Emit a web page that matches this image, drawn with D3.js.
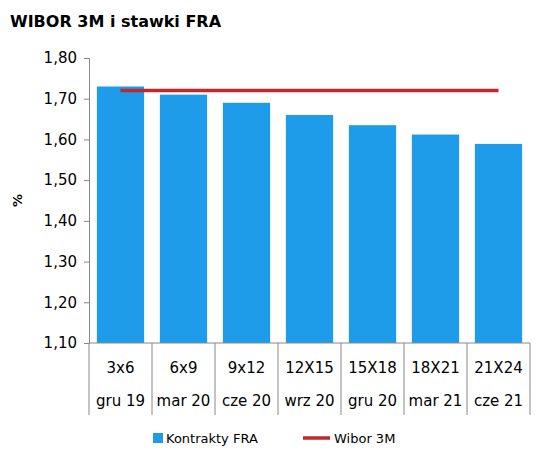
<!DOCTYPE html><html><head><meta charset="utf-8"><script src="https://cdn.jsdelivr.net/npm/d3@7"></script>
<style>body{margin:0;background:#fff}text{font-family:"DejaVu Sans",Verdana,sans-serif}</style></head><body>
<svg id="c" width="545" height="455"></svg>
<script>
const contracts=["3x6","6x9","9x12","12X15","15X18","18X21","21X24"];
const periods=["gru 19","mar 20","cze 20","wrz 20","gru 20","mar 21","cze 21"];
const fra=[1.73,1.71,1.69,1.66,1.635,1.612,1.589];
const wibor=[1.72,1.72,1.72,1.72,1.72,1.72,1.72];
const yTicks=[1.10,1.20,1.30,1.40,1.50,1.60,1.70,1.80];
const svg=d3.select("#c");
const L=89,R=530,T=58,B=343;
const x=d3.scaleBand().domain(d3.range(7)).range([L,R]).paddingInner(0.25).paddingOuter(0.125);
const xs=d3.scaleBand().domain(d3.range(7)).range([L,R]);
const y=d3.scaleLinear().domain([1.1,1.8]).range([B,T]);
const fmt=v=>d3.format(".2f")(v).replace(".",",");
svg.append("text").attr("x",10).attr("y",27).attr("font-size",16).attr("font-weight","bold").text("WIBOR 3M i stawki FRA");
const ya=svg.append("g").attr("transform",`translate(${L},0)`).call(d3.axisLeft(y).tickValues(yTicks).tickFormat(fmt).tickSize(5));
ya.select(".domain").attr("stroke","#888");ya.selectAll("line").attr("stroke","#888");
ya.selectAll("text").attr("font-size",15).attr("fill","#000").attr("dx",-4);
svg.append("text").attr("transform",`translate(22,${(T+B)/2}) rotate(-90)`).attr("text-anchor","middle").attr("font-size",13).attr("font-weight","bold").text("%");
svg.selectAll("rect.b").data(fra).join("rect").attr("x",(d,i)=>x(i)).attr("width",x.bandwidth()).attr("y",d=>y(d)).attr("height",d=>B-y(d)).attr("fill","#1e9be9");
svg.append("path").datum(wibor).attr("d",d3.line().x((d,i)=>xs(i)+xs.bandwidth()/2).y(d=>y(d))).attr("stroke","#c0282d").attr("stroke-width",3.5).attr("fill","none");
svg.append("line").attr("x1",L).attr("x2",R).attr("y1",B).attr("y2",B).attr("stroke","#888");
for(let i=0;i<=7;i++){const xx=i<7?xs(i):R;svg.append("line").attr("x1",xx).attr("x2",xx).attr("y1",B).attr("y2",415).attr("stroke","#888");}
svg.selectAll("text.c").data(contracts).join("text").attr("x",(d,i)=>xs(i)+xs.bandwidth()/2).attr("y",373).attr("text-anchor","middle").attr("font-size",15).text(d=>d);
svg.selectAll("text.p").data(periods).join("text").attr("x",(d,i)=>xs(i)+xs.bandwidth()/2).attr("y",406).attr("text-anchor","middle").attr("font-size",15).text(d=>d);
svg.append("rect").attr("x",153).attr("y",433).attr("width",10).attr("height",10).attr("fill","#1e9be9");
svg.append("text").attr("x",166).attr("y",443).attr("font-size",13).text("Kontrakty FRA");
svg.append("line").attr("x1",303).attr("x2",330).attr("y1",438).attr("y2",438).attr("stroke","#c0282d").attr("stroke-width",3.5);
svg.append("text").attr("x",334).attr("y",443).attr("font-size",13).text("Wibor 3M");
</script></body></html>
